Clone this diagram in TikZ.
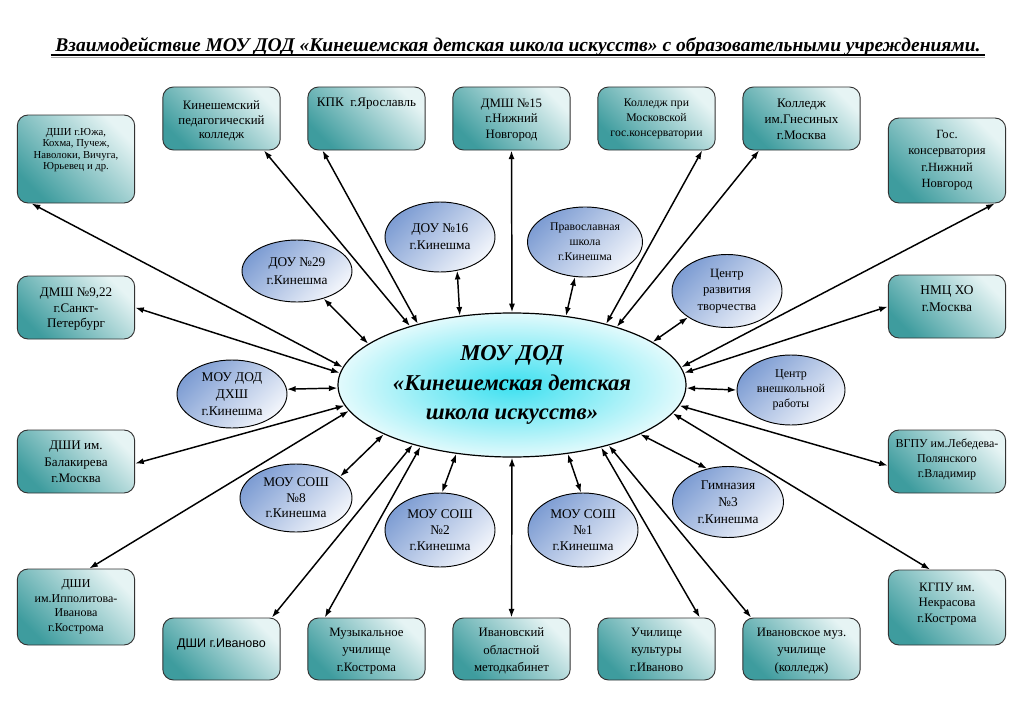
\documentclass[tikz,border=0pt]{standalone}
\usepackage{fontspec}
\setmainfont{Liberation Serif}
\setsansfont{Liberation Sans}
\usetikzlibrary{shapes.geometric,arrows.meta}
\definecolor{boxlight}{HTML}{E6F4F4}
\definecolor{boxdark}{HTML}{3E9C9E}
\definecolor{ovallight}{HTML}{F2F5FB}
\definecolor{ovaldark}{HTML}{7E9DD3}
\definecolor{maininner}{HTML}{3CE0F0}
\definecolor{mainouter}{HTML}{E2FAFC}
\newcommand{\boxtext}[2]{\parbox[t][#1][t]{86pt}{\centering #2}}
\begin{document}
\begin{tikzpicture}
[x=0.75pt,y=-0.75pt,
  boxdecorate/.style={shape=rectangle,rounded corners=8pt,draw=black!80,line width=0.7pt,%
    top color=boxlight,bottom color=boxdark,shading angle=-45,inner sep=0pt,minimum width=88pt},%
  ovaldecorate/.style={shape=ellipse,draw,line width=0.7pt,top color=ovaldark,%
    bottom color=ovallight,shading angle=45,inner sep=0pt,align=center},%
  maindecorate/.style={shape=ellipse,draw,line width=0.9pt,inner color=maininner,%
    outer color=mainouter,inner sep=0pt,align=center,minimum width=261pt,minimum height=108pt,%
    font=\fontsize{17}{22}\selectfont\bfseries\itshape},%
  linedecorate/.style={<->,>={Latex[length=6.5pt,width=4.5pt]},line width=1.1pt}]
\useasboundingbox (0,0) rectangle (1024,724);
%% title
\node (title) at (518,51) [anchor=base] {\resizebox{693.75pt}{10.5pt}{\bfseries\itshape
  Взаимодействие МОУ ДОД «Кинешемская детская школа искусств» с образовательными учреждениями.}};
\draw[line width=1.4pt] ([yshift=-3pt]title.base west) -- ([yshift=-3pt]title.base east);
\draw[line width=0.8pt,black!35] ([yshift=-4.6pt]title.base west) -- ([yshift=-4.6pt]title.base east);
%% centre
\node (main) at (512,385) [maindecorate] {МОУ ДОД\\«Кинешемская детская\\школа искусств»};
%% boxes
\foreach \nodename/\x/\y/\boxh/\boxp/\fsz/\fbs/\boxlabel in {
  ped/221.5/118.5/47.25/27.25/9.6/11.2/{Кинешемский\\педагогический\\колледж},
  kpk/366.5/118.5/47.25/31.25/9.8/11.6/{КПК\ \ г.Ярославль},
  dmsh15/511.5/118.5/47.25/29.25/9.6/11.6/{ДМШ №15\\г.Нижний\\Новгород},
  kolmosk/656.5/118.5/47.25/29.25/8.8/11.2/{Колледж при\\Московской\\гос.консерватории},
  gnes/801.5/118.5/47.25/29.25/9.8/12/{Колледж\\им.Гнесиных\\г.Москва},
  juzha/76/159/66/46/8/8.6/{ДШИ г.Южа,\\Кохма, Пучеж,\\Наволоки, Вичуга,\\Юрьевец и др.},
  spb/76/307.5/47.25/29.25/9.8/11.6/{ДМШ №9,22\\г.Санкт-\\Петербург},
  balak/76/461.5/47.25/30.25/9.8/12.2/{ДШИ им.\\Балакирева\\г.Москва},
  ippol/76/607/57/41/9/10.9/{ДШИ\\им.Ипполитова-\\Иванова\\г.Кострома},
  gosk/947/160.5/63.75/45.75/9.4/12.4/{Гос.\\консерватория\\г.Нижний\\Новгород},
  nmc/947/306.5/47.25/30.75/10/12.75/{НМЦ ХО\\г.Москва},
  vgpu/947/461.5/47.25/33.75/9/11.25/{ВГПУ им.Лебедева-\\Полянского\\г.Владимир},
  kgpu/947/607.5/56.25/36.75/9.6/11.6/{КГПУ им.\\Некрасова\\г.Кострома},
  ivanovo/221.5/649/46.5/15.7/9.4/11/{\sffamily ДШИ г.Иваново},
  muzkostr/366.5/649/46.5/31.5/9.6/13/{Музыкальное\\училище\\г.Кострома},
  metod/511.5/649/46.5/31.5/9.6/13/{Ивановский\\областной\\методкабинет},
  uchkult/656.5/649/46.5/31.5/9.6/13/{Училище\\культуры\\г.Иваново},
  ivmuz/801.5/649/46.5/31.5/9.6/13/{Ивановское муз.\\училище\\(колледж)}} {
  \node (\nodename) at (\x,\y) [boxdecorate,minimum height=\boxh pt,%
    font=\fontsize{\fsz}{\fbs}\selectfont] {\boxtext{\boxp pt}{\boxlabel}};
}
%% ovals
\foreach \nodename/\x/\y/\ow/\oh/\fsz/\fbs/\ovallabel in {
  dou29/297/271/82.5/46.5/10/13.5/{ДОУ №29\\г.Кинешма},
  dou16/440/237/82.5/52.5/10/12.75/{ДОУ №16\\г.Кинешма},
  prav/585/242/86.25/52.5/8.8/11.25/{Православная\\школа\\г.Кинешма},
  crt/727/291/82.5/54.75/9.5/12.4/{Центр\\развития\\творчества},
  vneshk/791/390/81/52.5/9/11.25/{Центр\\внешкольной\\работы},
  gimn/728/502/83.25/53.25/10/12.75/{Гимназия\\№3\\г.Кинешма},
  dkhsh/232/394/82.5/51/10/12.75/{МОУ ДОД\\ДХШ\\г.Кинешма},
  sosh8/296/498/84/51/10/11.6/{МОУ СОШ\\№8\\г.Кинешма},
  sosh2/440/530/82.5/55.5/10/12/{МОУ СОШ\\№2\\г.Кинешма},
  sosh1/583/530/82.5/55.5/10/12/{МОУ СОШ\\№1\\г.Кинешма}} {
  \node (\nodename) at (\x,\y) [ovaldecorate,minimum width=\ow pt,minimum height=\oh pt,%
    font=\fontsize{\fsz}{\fbs}\selectfont] {\ovallabel};
}
%% edges or lines
\foreach \a/\b in {ped.-37/main.150, kpk.-144/main.147, dmsh15.south/main.north,
  kolmosk.-35/main.33, gnes.-143/main.29, juzha.-135/main.174, spb.east/main.176,
  balak.-2/main.187, ippol.71/main.189, ivanovo.32/main.211, muzkostr.143/main.214,
  metod.north/main.south, uchkult.36/main.-35, ivmuz.148/main.-32, gosk.-42/main.6,
  nmc.west/main.4, vgpu.184/main.-7, kgpu.114/main.-10, dou29.-46/main.164,
  dou16.-63/main.127, prav.-106/main.52, crt.214/main.17, vneshk.west/main.-1,
  gimn.122/main.-21, dkhsh.5/main.181, sosh8.26/main.201, sosh2.87/main.231,
  sosh1.93/main.-51} {
  \path (\a) edge[linedecorate] (\b);
}
\end{tikzpicture}
\end{document}
